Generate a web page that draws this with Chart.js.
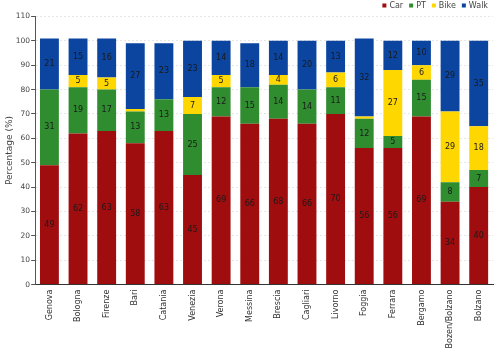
<!DOCTYPE html>
<html>
<head>
<meta charset="utf-8">
<script src="https://cdn.jsdelivr.net/npm/chart.js@4"></script>
<style>
  body { margin: 0; background: #fff; }
  #wrap { width: 503px; height: 353px; }
</style>
</head>
<body>
<div id="wrap"><canvas id="modalChart" width="503" height="353"></canvas></div>
<script>
// Modal split by city (%)
const cities = ['Genova', 'Bologna', 'Firenze', 'Bari', 'Catania', 'Venezia', 'Verona', 'Messina',
    'Brescia', 'Cagliari', 'Livorno', 'Foggia', 'Ferrara', 'Bergamo', 'Bozen/Bolzano', 'Bolzano'];
const car  = [49, 62, 63, 58, 63, 45, 69, 66, 68, 66, 70, 56, 56, 69, 34, 40];
const pt   = [31, 19, 17, 13, 13, 25, 12, 15, 14, 14, 11, 12, 5, 15, 8, 7];
const bike = [0, 5, 5, 1, 0, 7, 5, 0, 4, 0, 6, 1, 27, 6, 29, 18];
const walk = [21, 15, 16, 27, 23, 23, 14, 18, 14, 20, 13, 32, 12, 10, 29, 35];
const yTicks = [0, 10, 20, 30, 40, 50, 60, 70, 80, 90, 100, 110];

const colors = {
    car: '#a00d0f',
    pt: '#2f8c2f',
    bike: '#ffd700',
    walk: '#0b45a0'
};

Chart.defaults.font.family = 'DejaVu Sans, sans-serif';
Chart.defaults.color = '#444';

// numbers in the middle of each segment
const segmentLabels = {
    id: 'segmentLabels',
    afterDatasetsDraw(chart) {
        const ctx = chart.ctx;
        ctx.save();
        ctx.font = '8px DejaVu Sans, sans-serif';
        ctx.fillStyle = '#1a1a1a';
        ctx.textAlign = 'center';
        ctx.textBaseline = 'middle';
        chart.data.datasets.forEach((ds, i) => {
            chart.getDatasetMeta(i).data.forEach((bar, j) => {
                const v = ds.data[j];
                if (v < 2) return;
                ctx.fillText(v, bar.x, (bar.y + bar.base) / 2);
            });
        });
        ctx.restore();
    }
};

// small legend in the top right corner
const cornerLegend = {
    id: 'cornerLegend',
    afterDraw(chart) {
        const ctx = chart.ctx;
        const right = 488, y = 5.5, box = 4, gap = 3, space = 6;
        ctx.save();
        ctx.font = '8px DejaVu Sans, sans-serif';
        ctx.textBaseline = 'middle';
        ctx.textAlign = 'left';
        const items = chart.data.datasets.map(ds => ({ text: ds.label, color: ds.backgroundColor }));
        let total = 0;
        items.forEach((it, i) => {
            it.w = ctx.measureText(it.text).width;
            total += box + gap + it.w + (i ? space : 0);
        });
        let x = right - total;
        items.forEach(it => {
            ctx.fillStyle = it.color;
            ctx.fillRect(x, y - box / 2, box, box);
            x += box + gap;
            ctx.fillStyle = '#444';
            ctx.fillText(it.text, x, y);
            x += it.w + space;
        });
        ctx.restore();
    }
};

function makeSet(label, data, color) {
    return {
        label: label,
        data: data,
        backgroundColor: color,
        borderWidth: 0,
        categoryPercentage: 0.66,
        barPercentage: 1
    };
}

new Chart(document.getElementById('modalChart'), {
    type: 'bar',
    data: {
        labels: cities,
        datasets: [
            makeSet('Car', car, colors.car),
            makeSet('PT', pt, colors.pt),
            makeSet('Bike', bike, colors.bike),
            makeSet('Walk', walk, colors.walk)
        ]
    },
    options: {
        responsive: false,
        animation: false,
        layout: { padding: { left: 4, right: 10, top: 16.5, bottom: 2.5 } },
        plugins: {
            legend: { display: false },
            tooltip: { enabled: false }
        },
        scales: {
            x: {
                stacked: true,
                grid: { display: false, tickLength: 3, tickColor: '#333' },
                border: { color: '#333' },
                ticks: {
                    minRotation: 90,
                    maxRotation: 90,
                    autoSkip: false,
                    padding: 2,
                    color: '#333',
                    font: { size: 8 }
                }
            },
            y: {
                stacked: true,
                min: 0,
                max: 110,
                afterBuildTicks: axis => { axis.ticks = yTicks.map(v => ({ value: v })); },
                grid: {
                    color: '#e6e6e6',
                    tickColor: '#555',
                    tickLength: 4,
                    tickBorderDash: []
                },
                border: { color: '#555', dash: [2, 2] },
                ticks: { color: '#444', font: { size: 7.5 }, padding: 1 },
                title: {
                    display: true,
                    text: 'Percentage (%)',
                    color: '#444',
                    font: { size: 9 },
                    padding: { top: 0, bottom: 0 }
                }
            }
        }
    },
    plugins: [segmentLabels, cornerLegend]
});
</script>
</body>
</html>
